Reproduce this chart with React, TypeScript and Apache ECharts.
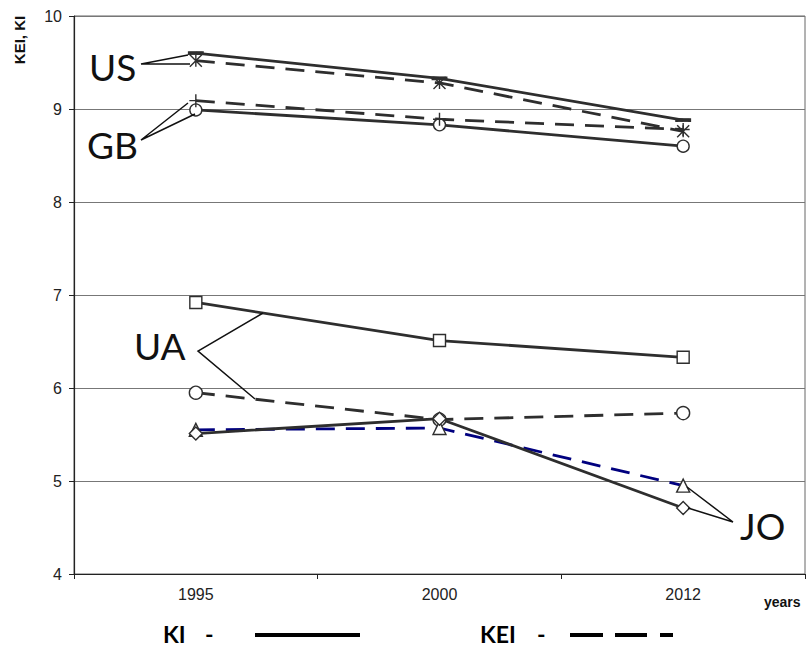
import React, { useEffect, useRef } from "react";
import * as echarts from "echarts";

const years = ["1995", "2000", "2012"];
const yTicks = { min: 4, max: 10, step: 1 };

// KI = solid lines, KEI = dashed lines
const usKI = [9.6, 9.33, 8.88];
const usKEI = [9.52, 9.28, 8.76];
const gbKI = [8.99, 8.83, 8.6];
const gbKEI = [9.09, 8.89, 8.78];
const uaKI = [6.92, 6.51, 6.33];
const uaKEI = [5.95, 5.66, 5.73];
const joKI = [5.51, 5.67, 4.71];
const joKEI = [5.55, 5.57, 4.95];

const DARK = "#2e2e2e";
const NAVY = "#00007f";
const DASH = [19, 11];

const STAR = "path://M0,0L10,10M10,0L0,10M5,0L5,10";
const PLUS = "path://M5,0L5,10M0,5L10,5";

function line(
  name: string,
  data: number[],
  dashed: boolean,
  symbol: string,
  size: number | number[],
  color = DARK,
  fill = "#ffffff"
) {
  return {
    name,
    type: "line",
    data,
    symbol,
    symbolSize: size,
    showSymbol: true,
    lineStyle: { color, width: 2.8, type: dashed ? DASH : "solid" },
    itemStyle: { color: fill, borderColor: DARK, borderWidth: 1.4 },
    emphasis: { disabled: true },
    z: 3,
  };
}

const labelFont = "Lato, 'Liberation Sans', sans-serif";
const axisFont = "'Liberation Sans', Arial, sans-serif";

function pointer(points: number[][]) {
  return {
    type: "polyline",
    shape: { points },
    style: { stroke: "#111", lineWidth: 1.5, fill: null },
    z: 10,
  };
}

function countryText(text: string, x: number, y: number) {
  return {
    type: "text",
    x,
    y,
    style: {
      text,
      fontFamily: labelFont,
      fontSize: 37,
      fill: "#111",
      align: "left",
      verticalAlign: "middle",
    },
    z: 10,
  };
}

function keyText(text: string, x: number) {
  return {
    type: "text",
    x,
    y: 634,
    style: {
      text,
      fontFamily: labelFont,
      fontWeight: "bold",
      fontSize: 23,
      lineHeight: 23,
      fill: "#000",
      verticalAlign: "middle",
    },
  };
}

function keyStroke(x1: number, x2: number) {
  return {
    type: "line",
    shape: { x1, y1: 635, x2, y2: 635 },
    style: { stroke: "#000", lineWidth: 4 },
  };
}

export default function App() {
  const ref = useRef<HTMLDivElement>(null);

  useEffect(() => {
    if (!ref.current) return;
    const chart = echarts.init(ref.current, null, { renderer: "svg" });
    chart.setOption({
      animation: false,
      backgroundColor: "#ffffff",
      grid: {
        left: 74,
        right: 1,
        top: 16,
        bottom: 73,
        show: true,
        borderColor: "#666",
        borderWidth: 1,
      },
      xAxis: {
        type: "category",
        data: years,
        boundaryGap: true,
        axisLine: { lineStyle: { color: "#222", width: 1.2 } },
        axisTick: { show: true, length: 5, lineStyle: { color: "#222" } },
        axisLabel: {
          color: "#222",
          fontFamily: axisFont,
          fontSize: 16,
          margin: 12,
        },
      },
      yAxis: {
        type: "value",
        min: yTicks.min,
        max: yTicks.max,
        interval: yTicks.step,
        axisLine: { show: true, lineStyle: { color: "#222", width: 1.2 } },
        axisTick: { show: true, length: 5, lineStyle: { color: "#222" } },
        splitLine: { show: true, lineStyle: { color: "#777", width: 1 } },
        axisLabel: {
          color: "#222",
          fontFamily: axisFont,
          fontSize: 16,
          margin: 12,
        },
      },
      series: [
        line("US KI", usKI, false, "rect", [13, 3], DARK, DARK),
        line("US KEI", usKEI, true, STAR, 12),
        line("GB KI", gbKI, false, "circle", 12),
        line("GB KEI", gbKEI, true, PLUS, 13),
        line("UA KI", uaKI, false, "rect", 12),
        line("UA KEI", uaKEI, true, "circle", 13),
        line("JO KEI", joKEI, true, "triangle", 13, NAVY),
        line("JO KI", joKI, false, "diamond", 13),
      ],
      graphic: [
        // axis titles
        {
          type: "text",
          x: 19,
          y: 40,
          rotation: Math.PI / 2,
          style: {
            text: "KEI, KI",
            fontFamily: axisFont,
            fontWeight: "bold",
            fontSize: 15,
            fill: "#111",
            align: "center",
            verticalAlign: "middle",
          },
        },
        {
          type: "text",
          x: 764,
          y: 602,
          style: {
            text: "years",
            fontFamily: axisFont,
            fontWeight: "bold",
            fontSize: 14,
            fill: "#111",
            align: "left",
            verticalAlign: "middle",
          },
        },
        // country callouts
        countryText("US", 89, 66),
        pointer([[188, 55], [141, 64], [190, 64]]),
        countryText("GB", 87, 144),
        pointer([[188, 103], [141, 140], [195, 114]]),
        countryText("UA", 134, 345),
        pointer([[263, 313], [198, 351], [255, 399]]),
        countryText("JO", 740, 525),
        pointer([[687, 487], [733, 522], [688, 508]]),
        // line-style key
        keyText("KI", 163),
        keyText("-", 205),
        keyStroke(255, 360),
        keyText("KEI", 480),
        keyText("-", 537),
        keyStroke(570, 603),
        keyStroke(615, 647),
        keyStroke(660, 673),
      ],
    });
    return () => chart.dispose();
  }, []);

  return (
    <div
      ref={ref}
      style={{
        width: 806,
        height: 647,
        position: "absolute",
        left: 0,
        top: 0,
      }}
    />
  );
}
